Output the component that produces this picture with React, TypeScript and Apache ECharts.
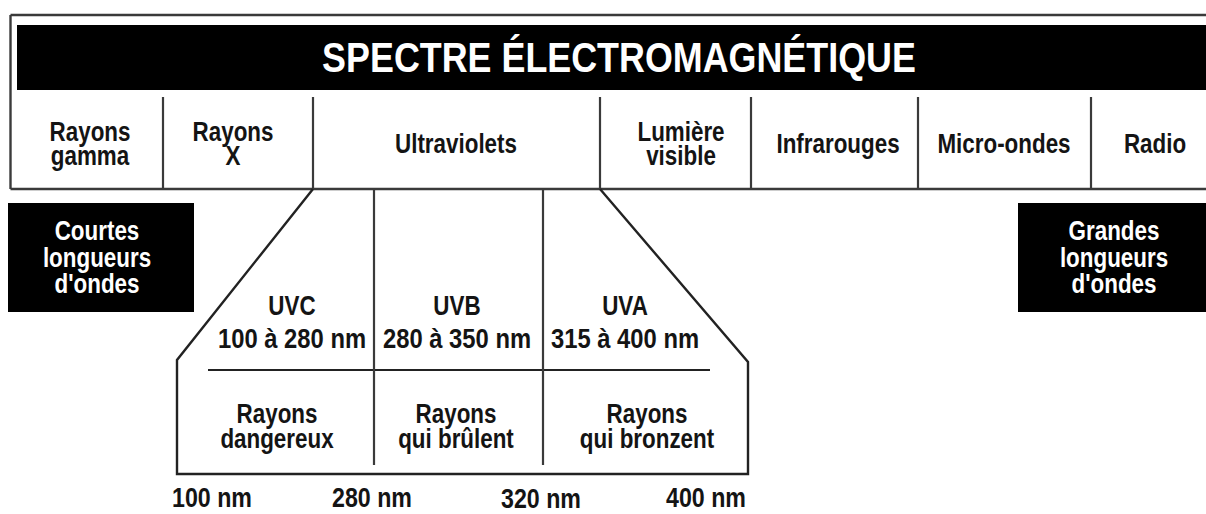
import React, { useEffect, useRef } from "react";
import * as echarts from "echarts";

// ---- content (text data) ----
const TITLE = "SPECTRE ÉLECTROMAGNÉTIQUE";
const bands = [
  "Rayons\ngamma",
  "Rayons\nX",
  "Ultraviolets",
  "Lumière\nvisible",
  "Infrarouges",
  "Micro-ondes",
  "Radio",
];
const extremes = ["Courtes\nlongueurs\nd'ondes", "Grandes\nlongueurs\nd'ondes"];
const uvNames = ["UVC", "UVB", "UVA"];
const uvRanges = ["100 à 280 nm", "280 à 350 nm", "315 à 400 nm"];
const uvEffects = ["Rayons\ndangereux", "Rayons\nqui brûlent", "Rayons\nqui bronzent"];
const wavelengthTicks = ["100 nm", "280 nm", "320 nm", "400 nm"];

// ---- layout ----
const W = 1206;
const H = 514;
const bandCenters = [90, 233, 456, 681, 838, 1004, 1155];
const bandDividers = [163, 313, 600, 751, 918, 1091];
const extremeBoxes = [
  { x: 8, y: 203, w: 186, h: 109, cx: 97 },
  { x: 1018, y: 203, w: 188, h: 109, cx: 1114 },
];
const uvCenters = [292, 457, 625];
const uvEffectCenters = [277, 456, 647];
const uvDividers = [374, 543];
const tickCenters = [212, 372, 541, 706];
const tickYs = [497, 497, 498.5, 497];

const FONT = '"Liberation Sans", Arial, Helvetica, sans-serif';
const INK = "#141414";
const LINE = "#3a3a3a";

function measure(text: string, size: number): number {
  const ctx = document.createElement("canvas").getContext("2d");
  if (!ctx) return text.length * size * 0.55;
  ctx.font = `bold ${size}px ${FONT}`;
  return Math.max(...text.split("\n").map((l) => ctx.measureText(l).width));
}

function txt(
  text: string,
  x: number,
  y: number,
  opts: { size?: number; sx?: number; fill?: string; lh?: number } = {}
) {
  const size = opts.size ?? 28;
  return {
    type: "text",
    x,
    y,
    scaleX: opts.sx ?? 0.8,
    silent: true,
    style: {
      text,
      fill: opts.fill ?? INK,
      fontFamily: FONT,
      fontWeight: "bold",
      fontSize: size,
      lineHeight: opts.lh ?? 24,
      align: "center",
      verticalAlign: "middle",
    },
  };
}

function seg(x1: number, y1: number, x2: number, y2: number, w = 2.2, c = LINE) {
  return {
    type: "line",
    silent: true,
    shape: { x1, y1, x2, y2 },
    style: { stroke: c, lineWidth: w },
  };
}

export default function App() {
  const ref = useRef<HTMLDivElement>(null);

  useEffect(() => {
    if (!ref.current) return;
    const chart = echarts.init(ref.current, undefined, { renderer: "svg" });

    const els: any[] = [];
    // background
    els.push({ type: "rect", shape: { x: 0, y: 0, width: W, height: H }, style: { fill: "#ffffff" }, silent: true });

    // outer frame of the spectrum row
    els.push(seg(10.5, 15, W, 15, 2.4));
    els.push(seg(10.5, 15, 10.5, 189, 2.4));
    els.push(seg(10.5, 189, W, 189, 2.6));

    // title band
    els.push({ type: "rect", silent: true, shape: { x: 17, y: 25, width: W - 17, height: 65 }, style: { fill: "#000" } });
    const titleSize = 42;
    els.push(txt(TITLE, 619, 57, { size: titleSize, sx: 594 / measure(TITLE, titleSize), fill: "#ffffff" }));

    // band dividers
    bandDividers.forEach((x) => els.push(seg(x, 97, x, 189, 2.2)));

    // band labels
    bands.forEach((b, i) => els.push(txt(b, bandCenters[i], 143, { lh: 24 })));

    // extreme boxes
    extremes.forEach((t, i) => {
      const b = extremeBoxes[i];
      els.push({ type: "rect", silent: true, shape: { x: b.x, y: b.y, width: b.w, height: b.h }, style: { fill: "#000" } });
      els.push(txt(t, b.cx, 257, { fill: "#ffffff", lh: 26.5 }));
    });

    // UV zoom trapezoid
    els.push({
      type: "polyline",
      silent: true,
      shape: {
        points: [
          [313, 189],
          [177, 360],
          [177, 474],
          [748, 474],
          [748, 362],
          [600, 189],
        ],
      },
      style: { stroke: "#222", lineWidth: 2.4, fill: null },
    });
    els.push(seg(208, 370, 710, 370, 2.2, "#222"));
    uvDividers.forEach((x) => els.push(seg(x, 189, x, 465, 2.2)));

    uvNames.forEach((n, i) => els.push(txt(n, uvCenters[i], 305, {})));
    uvRanges.forEach((r, i) => els.push(txt(r, uvCenters[i], 338, { sx: 0.85 })));
    uvEffects.forEach((e, i) => els.push(txt(e, uvEffectCenters[i], 426, { lh: 25 })));

    // wavelength ticks
    wavelengthTicks.forEach((t, i) =>
      els.push(txt(t, tickCenters[i], tickYs[i], { size: 27, sx: 0.86, lh: 20 }))
    );

    chart.setOption({
      animation: false,
      graphic: { elements: els },
    });

    return () => chart.dispose();
  }, []);

  return (
    <div
      ref={ref}
      style={{ position: "fixed", left: 0, top: 0, width: W, height: H, background: "#fff" }}
    />
  );
}
